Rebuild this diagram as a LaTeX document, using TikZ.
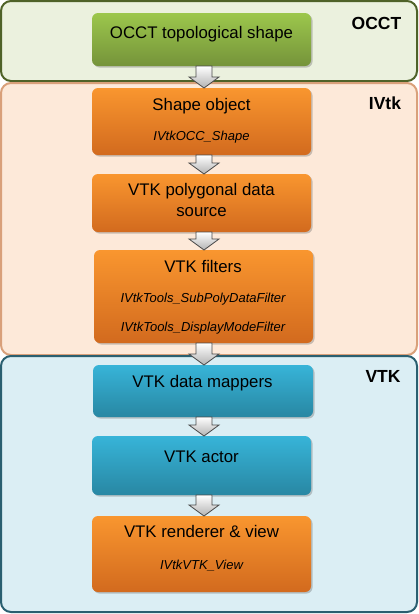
\documentclass[tikz,border=0pt]{standalone}
\usepackage{fontspec}
\setmainfont{Liberation Sans}
\usetikzlibrary{shadows,calc}
\definecolor{occtfill}{HTML}{EBF1DE}
\definecolor{occtline}{HTML}{4F6228}
\definecolor{ivtkfill}{HTML}{FDE9D9}
\definecolor{ivtkline}{HTML}{D9A07A}
\definecolor{vtkfill}{HTML}{DBEEF4}
\definecolor{vtkline}{HTML}{2A5F70}
\definecolor{gtop}{HTML}{9CC74C}
\definecolor{gbot}{HTML}{75933A}
\definecolor{otop}{HTML}{F9962F}
\definecolor{obot}{HTML}{D26A1E}
\definecolor{btop}{HTML}{37B4D8}
\definecolor{bbot}{HTML}{2887A3}
\definecolor{arrline}{HTML}{4A4A4A}
\tikzset{
  panel/.style={draw, line width=2pt, rounded corners=10pt, minimum width=416pt, inner sep=0pt, outer sep=0pt},
  boxbase/.style={rounded corners=6pt, minimum width=219pt, inner sep=0pt, outer sep=0pt,
     drop shadow={shadow xshift=1.5pt, shadow yshift=-1.5pt, opacity=0.35, fill=black!60}},
  greenbox/.style={boxbase, top color=gtop, bottom color=gbot},
  orangebox/.style={boxbase, top color=otop, bottom color=obot},
  bluebox/.style={boxbase, top color=btop, bottom color=bbot},
  title/.style={anchor=base, inner sep=0pt, font=\fontsize{16.8}{19}\selectfont},
  sub/.style={anchor=base, inner sep=0pt, font=\fontsize{13}{15}\selectfont\itshape},
  plabel/.style={anchor=base, inner sep=0pt, font=\fontsize{17.5}{20}\selectfont\bfseries},
  blockarr/.style={draw=arrline, line width=0.8pt, top color=white, bottom color=black!30, line join=miter}
}
\newcommand{\blockarrow}[2]{%
  \path[blockarr] let \p1=(#1.south), \p2=(#2.north) in
    (196pt,\y1) -- (212pt,\y1) -- (212pt,\y2+11pt) -- (219pt,\y2+11pt) -- (204pt,\y2)
    -- (189pt,\y2+11pt) -- (196pt,\y2+11pt) -- cycle;}
\begin{document}
\begin{tikzpicture}[x=1pt,y=-1pt]
\useasboundingbox (0,0) rectangle (419,614);
% panels
\node[panel, draw=occtline, fill=occtfill, minimum height=80pt] (p1) at (209,41) {};
\node[panel, draw=ivtkline, fill=ivtkfill, minimum height=272pt] (p2) at (209,219) {};
\node[panel, draw=vtkline, fill=vtkfill, minimum height=256pt] (p3) at (209,484) {};
\node[plabel] (l1) at (376.5,29) {OCCT};
\node[plabel] (l2) at (385,109) {IVtk};
\node[plabel] (l3) at (383,382) {VTK};
% boxes
\node[greenbox, minimum height=53pt] (b1) at (201.5,39.5) {};
\node[orangebox, minimum height=67pt] (b2) at (201.5,121.5) {};
\node[orangebox, minimum height=58pt] (b3) at (201.5,203) {};
\node[orangebox, minimum height=93pt] (b4) at (203.5,296.5) {};
\node[bluebox, minimum height=52pt, minimum width=220pt] (b5) at (203,391) {};
\node[bluebox, minimum height=59pt] (b6) at (201.5,465.5) {};
\node[orangebox, minimum height=76pt] (b7) at (201.5,554) {};
% texts
\node[title] (t1) at (201.5,38) {OCCT topological shape};
\node[title] (t2) at (201.5,110) {Shape object};
\node[sub] (s2) at (201.5,140.5) {IVtkOCC\_Shape};
\node[title] (t3) at (201.5,195.7) {VTK polygonal data};
\node[title] (t3b) at (201.5,216.7) {source};
\node[title] (t4) at (203,272.7) {VTK filters};
\node[sub] (s4a) at (203,302.7) {IVtkTools\_SubPolyDataFilter};
\node[sub] (s4b) at (203,331.7) {IVtkTools\_DisplayModeFilter};
\node[title] (t5) at (202.5,387.3) {VTK data mappers};
\node[title] (t6) at (201.5,462.7) {VTK actor};
\node[title] (t7) at (201.5,537.7) {VTK renderer \& view};
\node[sub] (s7) at (201.5,569) {IVtkVTK\_View};
% arrows
\blockarrow{b1}{b2}
\blockarrow{b2}{b3}
\blockarrow{b3}{b4}
\blockarrow{b4}{b5}
\blockarrow{b5}{b6}
\blockarrow{b6}{b7}
\end{tikzpicture}
\end{document}
